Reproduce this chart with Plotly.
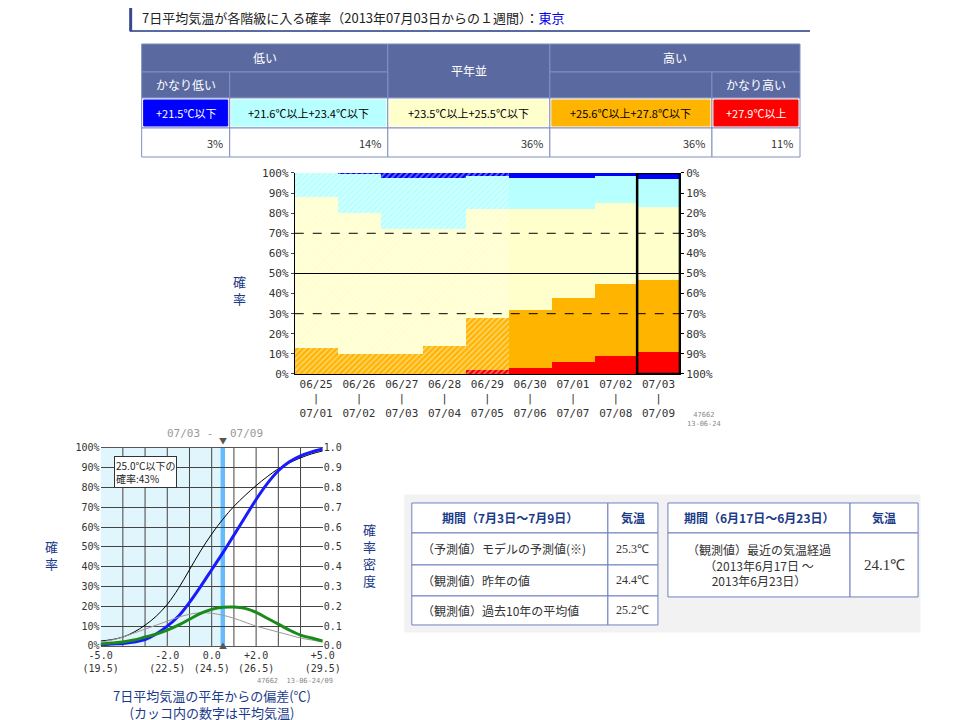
import plotly.graph_objects as go

W, H = 960, 720
KX, OX, KY, OY = 0.962, 26.4, 0.982, 14.0
def px(x): return ((x - OX) / KX) / W
def py(y): return 1 - ((y - OY) / KY) / H

FONT = "Noto Sans CJK JP"
MONO = "DejaVu Sans Mono"
NAVY = "#1a3a8a"

# ---- data ----
periods = ["06/25<br>|<br>07/01", "06/26<br>|<br>07/02", "06/27<br>|<br>07/03", "06/28<br>|<br>07/04",
           "06/29<br>|<br>07/05", "06/30<br>|<br>07/06", "07/01<br>|<br>07/07", "07/02<br>|<br>07/08",
           "07/03<br>|<br>07/09"]
p_red = [0, 0, 0, 0, 2, 3, 6, 9, 11]
p_orange = [13, 10, 10, 14, 26, 29, 32, 36, 36]
p_yellow = [75, 70, 62, 58, 54, 50, 44, 40, 36]
p_cyan = [12, 19.5, 25.5, 25.5, 16.5, 15.5, 15.5, 13.5, 14]
p_blue = [0, 0.5, 2.5, 2.5, 1.5, 2.5, 2.5, 1.5, 3]
hatched = [True] * 5 + [False] * 4

dev_x = [-5, -4.5, -4, -3.5, -3, -2.5, -2, -1.5, -1, -0.5, 0, 0.5, 1, 1.5, 2, 2.5, 3, 3.5, 4, 4.5, 5]
cdf_fc = [0.5, 1, 1.3, 2, 3.2, 6, 10, 15, 22, 30, 38.5, 47, 56, 65, 74, 82, 88.5, 93, 96, 98, 99.5]
cdf_clim = [2.5, 3.2, 4.5, 7, 10.5, 15, 21, 29, 38.5, 48, 56.5, 64, 70.5, 76, 81, 85.5, 89.5, 92.5, 95, 97, 98.5]
pdf_fc = [0.01, 0.015, 0.02, 0.03, 0.045, 0.06, 0.08, 0.105, 0.135, 0.165, 0.185, 0.195, 0.197, 0.19, 0.17, 0.14, 0.11, 0.08, 0.055, 0.04, 0.025]
pdf_clim = [0.02, 0.03, 0.045, 0.065, 0.085, 0.105, 0.125, 0.145, 0.16, 0.168, 0.165, 0.155, 0.14, 0.12, 0.10, 0.085, 0.07, 0.055, 0.04, 0.03, 0.02]
dev_ticks = [-5, -2, 0, 2, 5]
dev_ticktext = ["-5.0<br>(19.5)", "-2.0<br>(22.5)", "0.0<br>(24.5)", "+2.0<br>(26.5)", "+5.0<br>(29.5)"]

fig = go.Figure()
xs = list(range(len(periods)))
for vals, col in [(p_red, "#ff0000"), (p_orange, "#ffb400"), (p_yellow, "#ffffcc"),
                  (p_cyan, "#b8ffff"), (p_blue, "#0000ff")]:
    fig.add_bar(x=xs, y=vals, marker=dict(color=col, line=dict(width=0),
                pattern=dict(shape=["/" if h else "" for h in hatched], fgcolor="white",
                             size=4, solidity=0.35, fillmode="overlay")),
                width=1, xaxis="x", yaxis="y", showlegend=False, hoverinfo="skip")
fig.add_scatter(x=[0], y=[0], xaxis="x", yaxis="y2", mode="markers", opacity=0, showlegend=False)

fig.add_scatter(x=dev_x, y=cdf_clim, mode="lines", line=dict(color="black", width=1, shape="spline"),
                xaxis="x3", yaxis="y3", showlegend=False)
fig.add_scatter(x=dev_x, y=cdf_fc, mode="lines", line=dict(color="#1a1aff", width=3, shape="spline"),
                xaxis="x3", yaxis="y3", showlegend=False)
fig.add_scatter(x=dev_x, y=pdf_clim, mode="lines", line=dict(color="#999999", width=1, shape="spline"),
                xaxis="x3", yaxis="y4", showlegend=False)
fig.add_scatter(x=dev_x, y=pdf_fc, mode="lines", line=dict(color="#1a8a1a", width=3, shape="spline"),
                xaxis="x3", yaxis="y4", showlegend=False)

tickf = dict(family=MONO, size=11, color="#333")
pl = [f"{v}%" for v in range(0, 101, 10)]
fig.update_layout(
    width=W, height=H, margin=dict(l=0, r=0, t=0, b=0), paper_bgcolor="white", plot_bgcolor="white",
    barmode="stack", bargap=0,
    font=dict(family=FONT, size=12),
    xaxis=dict(domain=[px(295), px(680)], range=[-0.5, 8.5], tickvals=xs, ticktext=periods,
               tickfont=tickf, showgrid=False, zeroline=False, showline=True, linecolor="black"),
    yaxis=dict(domain=[py(374), py(173)], range=[0, 100], tickvals=list(range(0, 101, 10)),
               ticktext=pl, tickfont=tickf, showgrid=False,
               zeroline=False, showline=True, linecolor="black", mirror=True, ticks="outside", ticklen=3),
    yaxis2=dict(overlaying="y", side="right", range=[100, 0], tickvals=list(range(0, 101, 10)),
                ticktext=pl, tickfont=tickf, showgrid=False, zeroline=False,
                ticks="outside", ticklen=3, tickcolor="black"),
    xaxis3=dict(domain=[px(101), px(323)], range=[-5, 5], anchor="y3", tickvals=dev_ticks,
                ticktext=dev_ticktext, tickfont=dict(family=MONO, size=10, color="#333"),
                showgrid=False, zeroline=False, showline=True, linecolor="#555", mirror=True),
    yaxis3=dict(domain=[py(646), py(448)], range=[0, 100], anchor="x3", tickvals=list(range(0, 101, 10)),
                ticktext=pl, tickfont=dict(family=MONO, size=10, color="#333"),
                showgrid=True, gridcolor="#444", gridwidth=1, zeroline=False),
    yaxis4=dict(overlaying="y3", side="right", anchor="x3", range=[0, 1], tickvals=[i / 10 for i in range(11)],
                ticktext=[f"{i/10:.1f}" for i in range(11)], tickfont=dict(family=MONO, size=10, color="#333"),
                showgrid=False, zeroline=False),
)

shapes, ann = [], []
def rect(x0, y0, x1, y1, fill, line="#8090c0", lw=1, layer="above"):
    shapes.append(dict(type="rect", xref="paper", yref="paper", x0=px(x0), x1=px(x1), y0=py(y1), y1=py(y0),
                       fillcolor=fill, line=dict(color=line, width=lw), layer=layer))
def text(x, y, s, size=12, color="black", xanchor="center", **kw):
    ann.append(dict(xref="paper", yref="paper", x=px(x), y=py(y), text=s, showarrow=False,
                    font=dict(size=size, color=color, family=kw.pop("family", FONT)), xanchor=xanchor,
                    yanchor="middle", **kw))

shapes.append(dict(type="line", xref="paper", yref="paper", x0=px(130), x1=px(810), y0=py(31), y1=py(31),
                   line=dict(color="#5a6aa0", width=2)))
shapes.append(dict(type="line", xref="paper", yref="paper", x0=px(131), x1=px(131), y0=py(8), y1=py(31),
                   line=dict(color="#3a4a90", width=3)))
text(140, 18, "7日平均気温が各階級に入る確率（2013年07月03日からの１週間）：<span style='color:#0000ee'>東京</span>",
     size=13, color="#222", xanchor="left")

HD = "#5a6aa0"
rect(142, 44, 388, 72, HD); rect(388, 44, 550, 98, HD); rect(550, 44, 800, 72, HD)
rect(142, 72, 230, 98, HD); rect(230, 72, 388, 98, HD); rect(550, 72, 712, 98, HD); rect(712, 72, 800, 98, HD)
text(265, 58, "低い", color="white"); text(469, 71, "平年並", color="white"); text(675, 58, "高い", color="white")
text(186, 85, "かなり低い", color="white"); text(756, 85, "かなり高い", color="white")
bounds = [142, 230, 388, 550, 712, 800]
cols = ["#0000ff", "#b8ffff", "#ffffcc", "#ffb400", "#ff0000"]
labels = ["+21.5℃以下", "+21.6℃以上+23.4℃以下", "+23.5℃以上+25.5℃以下", "+25.6℃以上+27.8℃以下", "+27.9℃以上"]
tcols = ["white", "black", "black", "black", "white"]
pct = ["3%", "14%", "36%", "36%", "11%"]
for i in range(5):
    rect(bounds[i], 98, bounds[i + 1], 128, "white")
    rect(bounds[i] + 2, 100, bounds[i + 1] - 2, 126, cols[i], line=cols[i])
    text((bounds[i] + bounds[i + 1]) / 2, 113, labels[i], size=11, color=tcols[i])
    rect(bounds[i], 128, bounds[i + 1], 157, "white")
    text(bounds[i + 1] - 5, 143, pct[i], size=11, color="#333", xanchor="right")

for yv, dash, w in [(30, "dash", 1), (70, "dash", 1), (50, "solid", 1.2)]:
    shapes.append(dict(type="line", xref="x domain", yref="y", x0=0, x1=1, y0=yv, y1=yv,
                       line=dict(color="black", width=w, dash=dash)))
shapes.append(dict(type="rect", xref="x", yref="y", x0=7.5, x1=8.5, y0=0, y1=100, line=dict(color="black", width=2.5)))
text(240, 290, "確<br>率", size=13, color=NAVY)
text(704, 420, "47662<br>13-06-24", size=7, color="#888", family=MONO)

shapes.append(dict(type="rect", xref="x3", yref="y3", x0=-5, x1=0.5, y0=0, y1=100, fillcolor="#e0f6fc",
                   line=dict(width=0), layer="below"))
for xv in range(-4, 5):
    shapes.append(dict(type="line", xref="x3", yref="y3", x0=xv, x1=xv, y0=0, y1=100,
                       line=dict(color="#444", width=1), layer="below"))
shapes.append(dict(type="rect", xref="x3", yref="y3", x0=0.4, x1=0.6, y0=0, y1=100, fillcolor="#66bbff",
                   line=dict(width=0), layer="below"))
ann.append(dict(xref="x3", yref="paper", x=0.5, y=py(441), text="▼", showarrow=False, font=dict(size=8, color="#555")))
ann.append(dict(xref="x3", yref="paper", x=0.5, y=py(653), text="▲", showarrow=False, font=dict(size=8, color="#555")))
text(165, 434, "07/03 -", size=11, color="#999", family=MONO, xanchor="left")
text(228, 434, "07/09", size=11, color="#999", family=MONO, xanchor="left")
ann.append(dict(xref="x3", yref="y3", x=-4.4, y=96, text="25.0℃以下の<br>確率:43%", showarrow=False, align="left",
                xanchor="left", yanchor="top", bgcolor="white", bordercolor="#333", borderwidth=1,
                font=dict(size=10, color="#222")))
text(52, 555, "確<br>率", size=13, color=NAVY)
text(370, 555, "確<br>率<br>密<br>度", size=13, color=NAVY)
text(295, 681, "47662  13-06-24/09", size=7, color="#888", family=MONO)
text(212, 704, "7日平均気温の平年からの偏差(℃)<br>(カッコ内の数字は平均気温)", size=13, color=NAVY)

rect(405, 495, 920, 632, "#f2f2f2", line="#f2f2f2", layer="below")
TB = "#7080c0"
rect(412, 503, 608, 533, "white", line=TB); rect(608, 503, 658, 533, "white", line=TB)
text(510, 518, "<b>期間（7月3日～7月9日）</b>", size=12, color=NAVY)
text(633, 518, "<b>気温</b>", size=12, color=NAVY)
rows = [("（予測値）モデルの予測値(※)", "25.3℃"), ("（観測値）昨年の値", "24.4℃"), ("（観測値）過去10年の平均値", "25.2℃")]
ys = [533, 565, 596, 625]
for i, (a, b) in enumerate(rows):
    rect(412, ys[i], 608, ys[i + 1], "white", line=TB); rect(608, ys[i], 658, ys[i + 1], "white", line=TB)
    text(420, (ys[i] + ys[i + 1]) / 2, a, size=12, color="#333", xanchor="left")
    text(633, (ys[i] + ys[i + 1]) / 2, b, size=12, color="#333", family="Liberation Serif")
rect(668, 503, 850, 533, "white", line=TB); rect(850, 503, 918, 533, "white", line=TB)
text(759, 518, "<b>期間（6月17日～6月23日）</b>", size=12, color=NAVY)
text(884, 518, "<b>気温</b>", size=12, color=NAVY)
rect(668, 533, 850, 597, "white", line=TB); rect(850, 533, 918, 597, "white", line=TB)
text(759, 565, "（観測値）最近の気温経過<br>（2013年6月17日 ～<br>2013年6月23日）", size=12, color="#333")
text(884, 565, "24.1℃", size=15, color="#333", family="Liberation Serif")

fig.update_layout(shapes=shapes, annotations=ann)
fig.write_html("out.html")
